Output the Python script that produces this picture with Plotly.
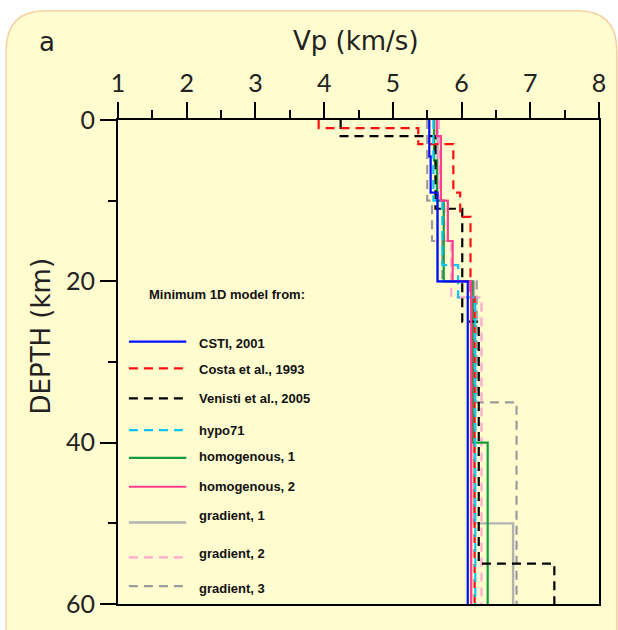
import plotly.graph_objects as go

# ---------------- data (layer tops in km, Vp in km/s) ----------------
model_names = ["CSTI, 2001", "Costa et al., 1993", "Venisti et al., 2005", "hypo71",
               "homogenous, 1", "homogenous, 2", "gradient, 1", "gradient, 2", "gradient, 3"]

csti_tops = [0, 4.5, 9, 20]
csti_vp = [5.53, 5.55, 5.65, 6.09]

costa_tops = [0, 1, 3, 9, 12, 22]
costa_vp = [3.92, 5.37, 5.88, 5.98, 6.13, 6.19]

venisti_tops = [0, 2, 11, 25, 55]
venisti_vp = [4.24, 5.62, 6.01, 6.25, 7.35]

hypo71_tops = [0, 10, 18, 22]
hypo71_vp = [5.59, 5.72, 5.95, 6.20]

homog1_tops = [0, 5, 10, 20, 40]
homog1_vp = [5.60, 5.64, 5.74, 6.16, 6.38]

homog2_tops = [0, 2, 10, 15, 20]
homog2_vp = [5.64, 5.70, 5.80, 5.87, 6.14]

grad1_tops = [0, 20, 50]
grad1_vp = [5.65, 6.18, 6.75]

grad2_tops = [0, 10, 15, 22]
grad2_vp = [5.67, 5.75, 5.85, 6.29]

grad3_tops = [0, 10, 15, 20, 35]
grad3_vp = [5.50, 5.57, 5.72, 6.22, 6.80]

max_depth = 60
x_ticks = [1, 2, 3, 4, 5, 6, 7, 8]
y_ticks = [0, 20, 40, 60]

# ---------------- styles ----------------
styles = {
    "CSTI, 2001": dict(color="#0010ff", dash="solid", width=2.2),
    "Costa et al., 1993": dict(color="#ff1010", dash="9px,6px", width=2.2),
    "Venisti et al., 2005": dict(color="#000000", dash="9px,6px", width=2.2),
    "hypo71": dict(color="#10c4f4", dash="9px,6px", width=2.2),
    "homogenous, 1": dict(color="#139c3c", dash="solid", width=2.2),
    "homogenous, 2": dict(color="#ff3f8f", dash="solid", width=2.2),
    "gradient, 1": dict(color="#b2b2b2", dash="solid", width=2.4),
    "gradient, 2": dict(color="#ffa8cc", dash="9px,6px", width=2.2),
    "gradient, 3": dict(color="#9c9c9c", dash="9px,6px", width=2.2),
}

models = {
    "CSTI, 2001": (csti_tops, csti_vp),
    "Costa et al., 1993": (costa_tops, costa_vp),
    "Venisti et al., 2005": (venisti_tops, venisti_vp),
    "hypo71": (hypo71_tops, hypo71_vp),
    "homogenous, 1": (homog1_tops, homog1_vp),
    "homogenous, 2": (homog2_tops, homog2_vp),
    "gradient, 1": (grad1_tops, grad1_vp),
    "gradient, 2": (grad2_tops, grad2_vp),
    "gradient, 3": (grad3_tops, grad3_vp),
}

draw_order = ["gradient, 1", "gradient, 3", "gradient, 2", "homogenous, 1", "Venisti et al., 2005",
              "Costa et al., 1993", "hypo71", "homogenous, 2", "CSTI, 2001"]


def step_profile(tops, vps):
    xs, ys = [], []
    bottoms = tops[1:] + [max_depth]
    for t, b, v in zip(tops, bottoms, vps):
        xs += [v, v]
        ys += [t, b]
    return xs, ys


fig = go.Figure()
for name in draw_order:
    tops, vps = models[name]
    xs, ys = step_profile(tops, vps)
    st = styles[name]
    fig.add_trace(go.Scatter(x=xs, y=ys, mode="lines", name=name, showlegend=False,
                             line=dict(color=st["color"], dash=st["dash"], width=st["width"])))

# ---------------- layout geometry (pixels) ----------------
W, H = 618, 630
L, R, T, B = 118, 604, 120, 607


def px(x):
    return (x - L) / (R - L)


def py(y):
    return (B - y) / (B - T)


# rounded light-yellow panel
x0, x1, y0, y1 = 5, 622, 10, 680
r = 40
rx = r / (R - L)
ry = r / (B - T)
X0, X1, Y0, Y1 = px(x0), px(x1), py(y0), py(y1)
path = (f"M {X0+rx},{Y0} L {X1-rx},{Y0} Q {X1},{Y0} {X1},{Y0-ry} "
        f"L {X1},{Y1+ry} Q {X1},{Y1} {X1-rx},{Y1} L {X0+rx},{Y1} Q {X0},{Y1} {X0},{Y1+ry} "
        f"L {X0},{Y0-ry} Q {X0},{Y0} {X0+rx},{Y0} Z")
shapes = [dict(type="path", xref="paper", yref="paper", path=path, layer="below",
               fillcolor="#fffccf", line=dict(color="#f6cfa0", width=1.5))]

annotations = []
legend_font = dict(family="Liberation Sans", size=13, color="#111111")
# legend (manual)
annotations.append(dict(text="<b>Minimum 1D model from:</b>", x=px(147), y=py(296), xref="paper", yref="paper",
                        xanchor="left", yanchor="middle", showarrow=False, font=legend_font))
line_ys = [343, 370, 400, 432, 460, 489, 525, 560, 589]
text_ys = [345, 371, 400, 432, 459, 489, 518, 556, 591]
for name, ly, ty in zip(model_names, line_ys, text_ys):
    st = styles[name]
    shapes.append(dict(type="line", xref="paper", yref="paper", x0=px(129), x1=px(187), y0=py(ly), y1=py(ly),
                       line=dict(color=st["color"], dash=st["dash"], width=st["width"])))
    annotations.append(dict(text=f"<b>{name}</b>", x=px(198), y=py(ty), xref="paper", yref="paper",
                            xanchor="left", yanchor="middle", showarrow=False, font=legend_font))

title_font = dict(family="DejaVu Sans", size=26, color="#222222")
annotations.append(dict(text="a", x=px(46), y=py(42), xref="paper", yref="paper", showarrow=False,
                        xanchor="center", yanchor="middle", font=title_font))
annotations.append(dict(text="Vp (km/s)", x=px(358), y=py(41), xref="paper", yref="paper", showarrow=False,
                        xanchor="center", yanchor="middle", font=title_font))
annotations.append(dict(text="DEPTH (km)", x=px(40), y=py(337), xref="paper", yref="paper", showarrow=False,
                        textangle=-90, xanchor="center", yanchor="middle", font=title_font))

tick_font = dict(family="Lato", size=25, color="#222222")

fig.update_layout(
    width=W, height=H,
    margin=dict(l=L, r=W - R, t=T, b=H - B, pad=0),
    paper_bgcolor="white", plot_bgcolor="rgba(0,0,0,0)",
    shapes=shapes, annotations=annotations, showlegend=False,
    xaxis=dict(side="top", range=[1, 8], tickvals=x_ticks, ticktext=[str(v) for v in x_ticks],
               ticks="outside", ticklen=16, tickwidth=2, tickcolor="black",
               showline=True, linecolor="black", linewidth=2, mirror=True,
               showgrid=False, zeroline=False, tickfont=tick_font,
               minor=dict(tickvals=[v + 0.5 for v in x_ticks[:-1]], ticks="outside", ticklen=8,
                          tickwidth=2, tickcolor="black", showgrid=False)),
    yaxis=dict(range=[max_depth, 0], tickvals=y_ticks, ticktext=[str(v) for v in y_ticks],
               ticks="outside", ticklen=16, tickwidth=2, tickcolor="black",
               showline=True, linecolor="black", linewidth=2, mirror=True,
               showgrid=False, zeroline=False, tickfont=tick_font,
               minor=dict(tickvals=[10, 30, 50], ticks="outside", ticklen=8,
                          tickwidth=2, tickcolor="black", showgrid=False)),
)

fig.write_html("out.html")
